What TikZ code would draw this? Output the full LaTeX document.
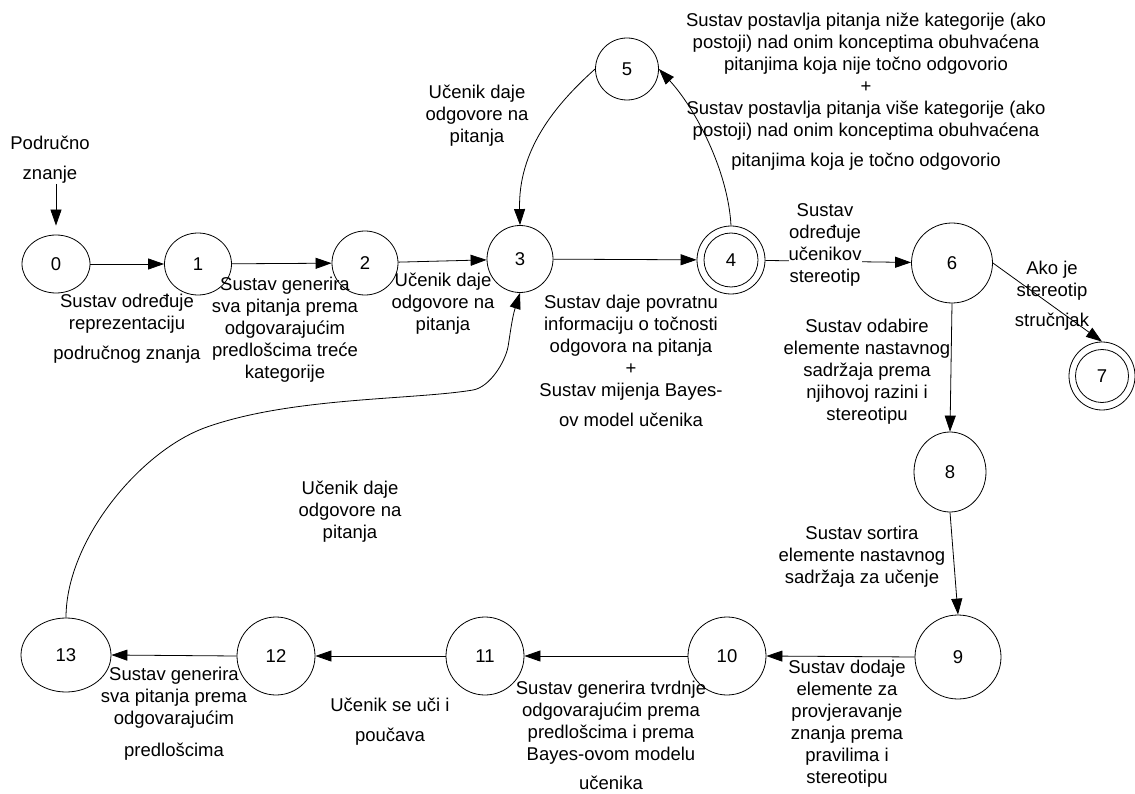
\documentclass[tikz,border=0pt]{standalone}
\usepackage{fontspec}
\setmainfont{Liberation Sans}
\usetikzlibrary{arrows.meta,shapes.geometric}
\begin{document}
\begin{tikzpicture}[x=1pt,y=-1pt,
  every node/.style={font=\fontsize{18.5}{22}\selectfont},
  stnode/.style={draw, ellipse, inner sep=0pt, line width=0.8pt},
  final/.style={stnode, path picture={\draw[line width=0.8pt] (path picture bounding box.center) circle[radius=#1];}},
  lbl/.style={align=center, inner sep=0pt},
  arr/.style={-{Triangle[length=16pt,width=11pt]}, line width=0.8pt}]
\useasboundingbox (0,0) rectangle (1135,794);

% states
\node[stnode, minimum width=68, minimum height=58] (n0) at (56,264) {0};
\node[stnode, minimum width=67, minimum height=62] (n1) at (198,264) {1};
\node[stnode, minimum width=66, minimum height=64] (n2) at (365,263) {2};
\node[stnode, minimum width=66, minimum height=67] (n3) at (520,259) {3};
\node[final=27pt, minimum width=68, minimum height=68] (n4) at (731,260) {4};
\node[stnode, minimum width=63, minimum height=62] (n5) at (627,69) {5};
\node[stnode, minimum width=81, minimum height=80] (n6) at (952,263) {6};
\node[final=26.5pt, minimum width=66, minimum height=68] (n7) at (1102,376) {7};
\node[stnode, minimum width=72, minimum height=80] (n8) at (950,472) {8};
\node[stnode, minimum width=86, minimum height=84] (n9) at (958,657) {9};
\node[stnode, minimum width=78, minimum height=78] (n10) at (727,656) {10};
\node[stnode, minimum width=78, minimum height=78] (n11) at (485,656) {11};
\node[stnode, minimum width=78, minimum height=78] (n12) at (276,656) {12};
\node[stnode, minimum width=90, minimum height=74] (n13) at (66,655) {13};

% start label
\node[lbl] (tPodr) at (50,160) {Područno\\[8pt]znanje};

% transitions
\draw[arr, shorten >=9pt] (tPodr.south -| n0.north) -- (n0.north);
\draw[arr] (n0) -- (n1);
\draw[arr] (n1) -- (n2);
\draw[arr] (n2) -- (n3);
\draw[arr] (n3) -- (n4);
\draw[arr] (n4) -- (n6);
\draw[arr] (n6.east) -- (n7.north);
\draw[arr] (n6.south) -- (n8.north);
\draw[arr] (n8.south) -- (n9.north);
\draw[arr] (n9.west) -- (n10.east);
\draw[arr] (n10.west) -- (n11.east);
\draw[arr] (n11.west) -- (n12.east);
\draw[arr] (n12.west) -- (n13.east);
\draw[arr] (n5.west) .. controls (555,105) and (518,150) .. (n3.north);
\draw[arr] (n4.north) .. controls (728,170) and (695,108) .. (n5.east);
\draw[arr] (n13.north) .. controls (66,540) and (141,450) .. (207,427)
  .. controls (292,397) and (413,400) .. (473,390)
  .. controls (490,387) and (505,362) .. (508,347)
  .. controls (510,335) and (512,318) .. (n3.south);

% transition labels
\node[lbl] (t01) at (127,329) {Sustav određuje\\reprezentaciju\\[8pt]područnog znanja};
\node[lbl] (t12) at (285,330) {Sustav generira\\sva pitanja prema\\odgovarajućim\\predlošcima treće\\kategorije};
\node[lbl] (t23) at (443,304) {Učenik daje\\odgovore na\\pitanja};
\node[lbl] (t53) at (477,116) {Učenik daje\\odgovore na\\pitanja};
\node[lbl] (t34) at (631,361) {Sustav daje povratnu\\informaciju o točnosti\\odgovora na pitanja\\+\\Sustav mijenja Bayes-\\[8pt]ov model učenika};
\node[lbl] (t45) at (866,92) {Sustav postavlja pitanja niže kategorije (ako\\postoji) nad onim konceptima obuhvaćena\\pitanjima koja nije točno odgovorio\\+\\Sustav postavlja pitanja više kategorije (ako\\postoji) nad onim konceptima obuhvaćena\\[8pt]pitanjima koja je točno odgovorio};
\node[lbl, fill=white] (t46) at (825,245) {Sustav\\određuje\\učenikov\\stereotip};
\node[lbl] (t67) at (1052,296) {Ako je\\stereotip\\[8pt]stručnjak};
\node[lbl] (t68) at (867,372) {Sustav odabire\\elemente nastavnog\\sadržaja prema\\njihovoj razini i\\stereotipu};
\node[lbl] (t89) at (862,557) {Sustav sortira\\elemente nastavnog\\sadržaja za učenje};
\node[lbl] (t910) at (847,724) {Sustav dodaje\\elemente za\\provjeravanje\\znanja prema\\pravilima i\\stereotipu};
\node[lbl] (t1011) at (611,735) {Sustav generira tvrdnje\\odgovarajućim prema\\predlošcima i prema\\Bayes-ovom modelu\\[7pt]učenika};
\node[lbl] (t1112) at (390,722) {Učenik se uči i\\[8pt]poučava};
\node[lbl] (t1213) at (174,714) {Sustav generira\\sva pitanja prema\\odgovarajućim\\[10pt]predlošcima};
\node[lbl] (t133) at (350,512) {Učenik daje\\odgovore na\\pitanja};
\end{tikzpicture}
\end{document}
